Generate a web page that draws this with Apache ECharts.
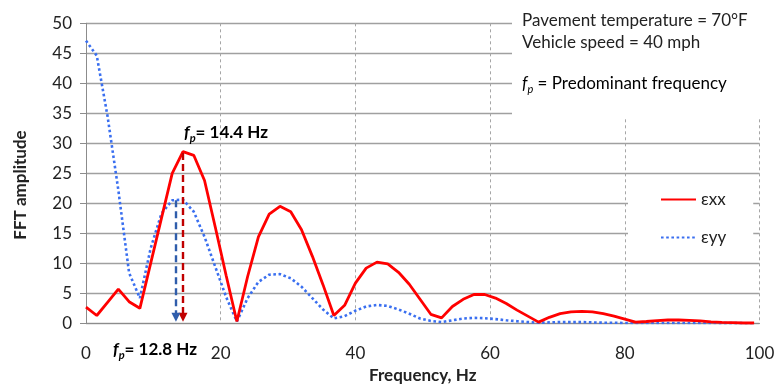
<!DOCTYPE html>
<html><head><meta charset="utf-8">
<script src="https://cdn.jsdelivr.net/npm/echarts@6/dist/echarts.min.js"></script>
<style>html,body{margin:0;padding:0;background:#fff}#c{width:774px;height:385px}</style>
</head><body><div id="c"></div>
<script>
const freqHz = [0,1.6,3.2,4.8,6.4,8.0,9.6,11.2,12.8,14.4,16.0,17.6,19.2,20.8,22.4,24.0,25.6,27.2,28.8,30.4,32.0,33.6,35.2,36.8,38.4,40.0,41.6,43.2,44.8,46.4,48.0,49.6,51.2,52.8,54.4,56.0,57.6,59.2,60.8,62.4,64.0,65.6,67.2,68.8,70.4,72.0,73.6,75.2,76.8,78.4,80.0,81.6,83.2,84.8,86.4,88.0,89.6,91.2,92.8,94.4,96.0,97.6,99.2];
const exx = [2.7,1.3,3.5,5.7,3.6,2.5,10.0,17.5,25.0,28.6,28.0,23.8,16.0,8.0,0.3,7.8,14.4,18.2,19.5,18.6,15.6,11.2,6.4,1.3,3.0,6.7,9.2,10.2,9.9,8.5,6.5,4.0,1.5,0.9,2.8,4.0,4.8,4.8,4.2,3.3,2.2,1.2,0.2,1.0,1.6,1.9,2.0,1.9,1.6,1.2,0.7,0.2,0.3,0.45,0.55,0.55,0.5,0.4,0.25,0.15,0.1,0.05,0.05];
const eyy = [47.1,44.6,34.5,22.2,8.4,4.2,12.5,18.3,20.5,20.6,18.6,14.4,9.4,4.4,0.3,4.2,6.9,8.1,8.2,7.5,6.1,4.2,2.3,0.8,1.2,2.1,2.8,3.05,2.9,2.3,1.6,0.8,0.4,0.2,0.5,0.8,0.9,0.85,0.7,0.5,0.35,0.2,0.1,0.15,0.2,0.2,0.2,0.15,0.1,0.1,0.05,0.05,0.05,0.05,0.05,0.05,0.05,0.05,0.05,0.03,0.03,0.02,0.02];
const seriesNames = ['εxx','εyy'];
const xTickLabels = [0,20,40,60,80,100];
const yTickLabels = [0,5,10,15,20,25,30,35,40,45,50];
// predominant frequency markers: [x position, top value]
const fpExx = {label:'14.4 Hz', x:14.4, top:28.4};
const fpEyy = {label:'12.8 Hz', x:13.35, top:20.5};
const notes = ['Pavement temperature = 70°F','Vehicle speed = 40 mph','= Predominant frequency'];
const xTitle = 'Frequency, Hz';
const yTitle = 'FFT amplitude';

const FONT = 'Lato, "Noto Sans", sans-serif';
const chart = echarts.init(document.getElementById('c'), null, {renderer:'canvas'});

function arrow(fp, color){
  return {
    silent:true, animation:false,
    symbol:['none','triangle'], symbolSize:9,
    label:{show:false},
    itemStyle:{color:color},
    lineStyle:{color:color, width:2.4, type:[7,4]},
    data:[[{coord:[fp.x, fp.top]},{coord:[fp.x, 1.0]}]]
  };
}
const subRich = (color, bold, size) => ({
  f:{fontFamily:FONT, fontStyle:'italic', fontWeight:bold?'bold':'normal', fontSize:size, color:color, lineHeight:22, verticalAlign:'middle'},
  p:{fontFamily:FONT, fontStyle:'italic', fontWeight:bold?'bold':'normal', fontSize:Math.round(size*0.65), color:color, lineHeight:12, verticalAlign:'bottom'},
  t:{fontFamily:FONT, fontWeight:bold?'bold':'normal', fontSize:size, color:color, lineHeight:22, verticalAlign:'middle'}
});

const option = {
  animation:false,
  textStyle:{fontFamily:FONT},
  grid:{left:86, right:14.5, top:23.3, bottom:61.7, containLabel:false, outerBoundsMode:'none'},
  legend:{
    data:seriesNames, orient:'vertical', left:628, top:182,
    itemWidth:35, itemHeight:14, itemGap:21,
    padding:[9,27,9,32], backgroundColor:'#fff',
    itemStyle:{opacity:0},
    textStyle:{fontSize:17, color:'#222', fontFamily:FONT}
  },
  xAxis:{
    type:'value', min:xTickLabels[0], max:xTickLabels[xTickLabels.length-1], interval:20,
    axisLine:{show:true, lineStyle:{color:'#8c8c8c', width:1}},
    axisTick:{show:false},
    axisLabel:{margin:22, fontSize:17, color:'#222', fontFamily:FONT},
    splitLine:{show:true, lineStyle:{type:[3,3], color:'#a6a6a6', width:1}},
    name:xTitle, nameLocation:'middle', nameGap:42,
    nameTextStyle:{fontWeight:'bold', fontSize:17, color:'#222', fontFamily:FONT}
  },
  yAxis:{
    type:'value', min:yTickLabels[0], max:yTickLabels[yTickLabels.length-1], interval:5,
    axisLine:{show:true, lineStyle:{color:'#8c8c8c', width:1}},
    axisTick:{show:true, length:6, lineStyle:{color:'#8c8c8c'}},
    axisLabel:{margin:14, fontSize:17, color:'#222', fontFamily:FONT},
    splitLine:{show:true, lineStyle:{color:'#a0a0a0', width:1.3}}
  },
  series:[
    {name:seriesNames[0], type:'line', data:freqHz.map((f,i)=>[f,exx[i]]), symbol:'none', z:4,
     lineStyle:{color:'#ff0000', width:2.8}, itemStyle:{color:'#ff0000'},
     markLine:arrow(fpExx,'#c00000')},
    {name:seriesNames[1], type:'line', data:freqHz.map((f,i)=>[f,eyy[i]]), symbol:'none', z:3,
     lineStyle:{color:'#3a6ff0', width:2.6, type:[2.6,2.6], cap:'butt'}, itemStyle:{color:'#3a6ff0'},
     markLine:arrow(fpEyy,'#2f5dab')}
  ],
  graphic:{elements:[
    {type:'text', z:101, x:21, y:185, rotation:Math.PI/2, style:{text:yTitle, font:'bold 17px '+FONT, fill:'#222', align:'center', verticalAlign:'middle'}},
    {type:'rect', z:100, shape:{x:512, y:0, width:262, height:118}, style:{fill:'#fff'}},
    {type:'text', z:101, x:522, y:21, style:{text:notes[0], font:'17px '+FONT, fill:'#222', verticalAlign:'middle'}},
    {type:'text', z:101, x:522, y:43, style:{text:notes[1], font:'17px '+FONT, fill:'#222', verticalAlign:'middle'}},
    {type:'text', z:101, x:522, y:84, style:{text:'{f|f}{p|p}{t| '+notes[2]+'}', rich:subRich('#222', false, 17), verticalAlign:'middle'}},
    {type:'text', z:101, x:184, y:133, style:{text:'{f|f}{p|p}{t|= '+fpExx.label+'}', rich:subRich('#c00000', true, 17), verticalAlign:'middle'}},
    {type:'text', z:101, x:113, y:350, style:{text:'{f|f}{p|p}{t|= '+fpEyy.label+'}', rich:subRich('#2f5dab', true, 17), verticalAlign:'middle'}}
  ]}
};
chart.setOption(option);
</script>
</body></html>
